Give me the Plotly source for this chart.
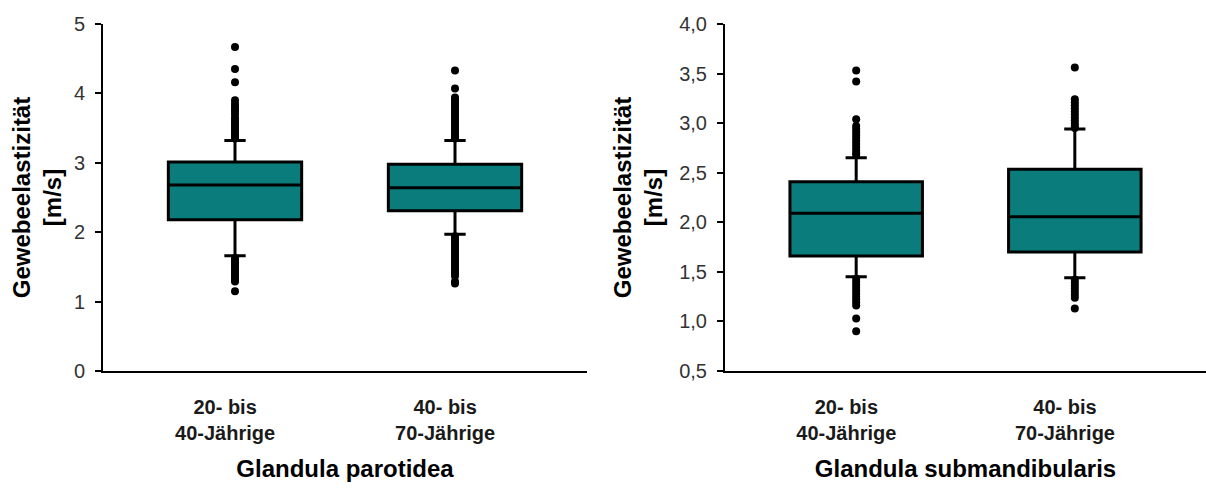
import plotly.graph_objects as go

# Age groups shown on both panels
groups = ["20- bis<br>40-Jährige", "40- bis<br>70-Jährige"]
group_pos = [1, 2]

# Glandula parotidea: box statistics (m/s)
par_q1 = [2.18, 2.31]
par_median = [2.68, 2.64]
par_q3 = [3.01, 2.98]
par_lowerfence = [1.66, 1.97]
par_upperfence = [3.32, 3.32]

# Glandula parotidea: outliers per group
par_out_young = [4.67, 4.35, 4.16, 3.90, 3.85, 3.81, 3.77, 3.74, 3.70, 3.65, 3.62,
                 3.60, 3.57, 3.55, 3.52, 3.50, 3.47, 3.45, 3.43, 3.41, 3.39, 3.37,
                 3.35, 1.63, 1.60, 1.57, 1.55, 1.52, 1.50, 1.47, 1.45, 1.42, 1.40,
                 1.37, 1.34, 1.31, 1.29, 1.15]
par_out_old = [4.33, 4.07, 3.94, 3.91, 3.88, 3.85, 3.82, 3.79, 3.76, 3.73, 3.70,
               3.67, 3.64, 3.61, 3.58, 3.55, 3.52, 3.49, 3.46, 3.43, 3.40, 3.37,
               3.35, 1.94, 1.91, 1.88, 1.85, 1.82, 1.79, 1.76, 1.73, 1.70, 1.67,
               1.64, 1.61, 1.58, 1.55, 1.52, 1.49, 1.46, 1.43, 1.40, 1.37, 1.29, 1.26]

# Glandula submandibularis: box statistics (m/s)
sub_q1 = [1.66, 1.70]
sub_median = [2.09, 2.055]
sub_q3 = [2.41, 2.535]
sub_lowerfence = [1.45, 1.44]
sub_upperfence = [2.65, 2.94]

# Glandula submandibularis: outliers per group
sub_out_young = [3.53, 3.42, 3.04, 2.97, 2.94, 2.91, 2.88, 2.85, 2.82, 2.79, 2.76,
                 2.73, 2.70, 2.68, 1.43, 1.40, 1.37, 1.34, 1.31, 1.28, 1.25, 1.22,
                 1.19, 1.16, 1.03, 0.90]
sub_out_old = [3.56, 3.24, 3.21, 3.18, 3.15, 3.12, 3.09, 3.06, 3.03, 3.00, 2.97,
               2.95, 1.42, 1.39, 1.36, 1.33, 1.30, 1.27, 1.24, 1.13]

TEAL = "#0A7C7C"
FONT = "Liberation Sans, Arial, sans-serif"
LABEL_SHIFT = -0.045  # category labels sit slightly left of the box centres

fig = go.Figure()


def add_panel(xref, yref, q1, med, q3, lo, hi, out_a, out_b):
    fig.add_trace(go.Box(
        x=group_pos, q1=q1, median=med, q3=q3,
        lowerfence=lo, upperfence=hi,
        width=0.606, whiskerwidth=0.16,
        fillcolor=TEAL, line=dict(color="black", width=3),
        boxpoints=False, xaxis=xref, yaxis=yref, showlegend=False,
    ))
    xs = [group_pos[0]] * len(out_a) + [group_pos[1]] * len(out_b)
    fig.add_trace(go.Scatter(
        x=xs, y=out_a + out_b, mode="markers",
        marker=dict(color="black", size=8),
        xaxis=xref, yaxis=yref, showlegend=False,
    ))


add_panel("x", "y", par_q1, par_median, par_q3, par_lowerfence, par_upperfence,
          par_out_young, par_out_old)
add_panel("x2", "y2", sub_q1, sub_median, sub_q3, sub_lowerfence, sub_upperfence,
          sub_out_young, sub_out_old)

W, H = 1206, 489
label_ticks = [p + LABEL_SHIFT for p in group_pos]

xcommon = dict(
    range=[0.4, 2.6], tickmode="array", tickvals=label_ticks, ticktext=groups,
    ticks="", showline=True, linecolor="black", linewidth=2,
    showgrid=False, zeroline=False,
    tickfont=dict(family=FONT, size=20, color="#1a1a1a", weight="bold"),
    ticklabelstandoff=17,
)
ycommon = dict(
    ticks="outside", ticklen=6, tickwidth=2, tickcolor="black",
    showline=True, linecolor="black", linewidth=2,
    showgrid=False, zeroline=False,
    tickfont=dict(family=FONT, size=20, color="#333333"),
    ticklabelstandoff=6,
)
title_font = dict(family=FONT, size=24, color="black", weight="bold")
ytitle = "Gewebeelastizität<br>[m/s]"

fig.update_layout(
    width=W, height=H,
    margin=dict(l=0, r=0, t=24, b=118),
    paper_bgcolor="white", plot_bgcolor="white",
    separators=",.",
    xaxis=dict(domain=[103 / W, 587 / W], anchor="y",
               title=dict(text="Glandula parotidea", font=title_font, standoff=17),
               **xcommon),
    yaxis=dict(domain=[0, 1], anchor="x", range=[0, 5], dtick=1,
               title=dict(text=ytitle, font=title_font, standoff=5),
               **ycommon),
    xaxis2=dict(domain=[725 / W, 1.0], anchor="y2",
                title=dict(text="Glandula submandibularis", font=title_font, standoff=17),
                **xcommon),
    yaxis2=dict(domain=[0, 1], anchor="x2", range=[0.5, 4.0], dtick=0.5,
                tickformat=".1f",
                title=dict(text=ytitle, font=title_font, standoff=10),
                **ycommon),
)

fig.write_html("out.html")
